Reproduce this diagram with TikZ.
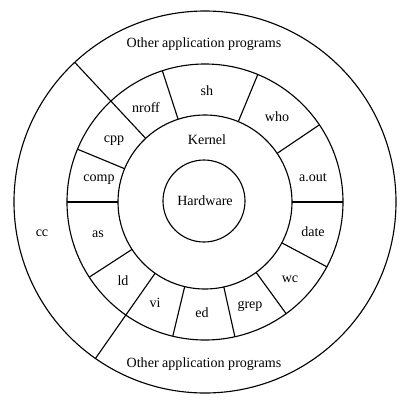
\documentclass[tikz,border=0pt]{standalone}
\usepackage{fontspec}
\setmainfont{Liberation Serif}
\tikzstyle{ring}=[draw=black,
                  line width=0.8pt]
\tikzstyle{prog}=[shape=rectangle,
                  inner sep=1pt]

\begin{document}
\begin{tikzpicture}[scale=0.025]
\useasboundingbox (-205,-204) rectangle (205,202);

% rings (hardware, kernel, commands, other programs)
\draw[ring] (0,0) circle (191);
\draw[ring] (0,0) circle (138);
\draw[ring] (0,0) circle (87);
\draw[ring] (-1,1) circle (41);

% dividers between the commands
\foreach \a in {0,34,67.5,108,133,157.5,180,-147,-125,-103.5,-77.5,-54,-28}
  \draw[ring] (\a:87) -- (\a:138);

% dividers round cc
\draw[ring] (133:138) -- (133:191);
\draw[ring] (-125:138) -- (-125:191);

% centre
\node[prog] (hardware) at (0,1) {Hardware};
\node[prog] (kernel) at (2,62) {Kernel};

% commands
\node[prog] (sh) at (2,111) {sh};
\node[prog] (who) at (72,85) {who};
\node[prog] (aout) at (108,24) {a.out};
\node[prog] (date) at (108,-30) {date};
\node[prog] (wc) at (85,-77) {wc};
\node[prog] (grep) at (45,-104) {grep};
\node[prog] (ed) at (-3,-111) {ed};
\node[prog] (vi) at (-50,-101) {vi};
\node[prog] (ld) at (-82,-79) {ld};
\node[prog] (as) at (-107,-32) {as};
\node[prog] (comp) at (-106,22) {comp};
\node[prog] (cpp) at (-91,61) {cpp};
\node[prog] (nroff) at (-59,94) {nroff};

% outer ring
\node[prog] (othertop) at (-1,158) {Other application programs};
\node[prog] (otherbottom) at (-1,-162) {Other application programs};
\node[prog] (cc) at (-163,-31) {cc};

\end{tikzpicture}
\end{document}
